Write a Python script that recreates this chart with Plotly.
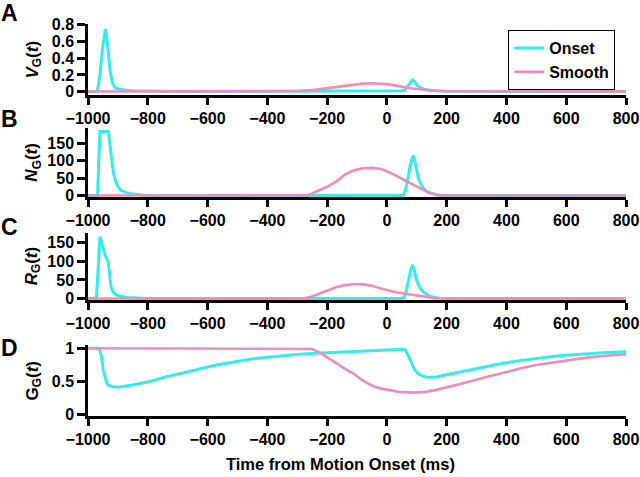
import plotly.graph_objects as go

# ---------------- data ----------------
# Panel A: V_G(t)
a_on_t = [-1000, -975, -968, -960, -952, -946, -942, -938, -932, -926, -918, -910, -895, -880, -850, -800, -700,
          -500, -300, -200, -100, 0, 50, 60, 70, 80, 86, 92, 100, 110, 125, 145, 170, 200, 400, 800]
a_on_v = [0, 0, 0.02, 0.2, 0.5, 0.7, 0.75, 0.68, 0.45, 0.25, 0.1, 0.05, 0.03, 0.02, 0.012, 0.006, 0.003,
          0.002, 0.002, 0.004, 0.006, 0.008, 0.01, 0.02, 0.07, 0.12, 0.14, 0.12, 0.08, 0.05, 0.03, 0.015, 0.008, 0.004, 0.002, 0.001]
a_sm_t = [-1000, -400, -300, -250, -224, -170, -113, -80, -57, -30, 0, 30, 55, 80, 110, 140, 166, 200, 300, 800]
a_sm_v = [0.002, 0.003, 0.008, 0.018, 0.03, 0.058, 0.085, 0.096, 0.1, 0.098, 0.09, 0.072, 0.053, 0.04, 0.028, 0.017, 0.01, 0.006, 0.004, 0.003]

# Panel B: N_G(t)
b_on_t = [-1000, -968, -964, -960, -932, -926, -920, -915, -908, -900, -890, -875, -860, -840, -820, -800, -700,
          50, 56, 62, 70, 78, 84, 88, 92, 98, 105, 115, 125, 140, 155, 170, 190, 800]
b_on_v = [0, 0, 100, 183, 183, 140, 95, 65, 42, 25, 15, 9, 6, 3, 1.5, 0.5, 0,
          0, 2, 15, 45, 85, 108, 115, 105, 75, 50, 30, 18, 8, 4, 1.5, 0.5, 0]
b_sm_t = [-1000, -300, -270, -250, -224, -200, -170, -140, -110, -80, -50, -20, 10, 40, 66, 90, 110, 140, 166, 185, 800]
b_sm_v = [0, 0, 1, 6, 15, 25, 40, 60, 72, 78, 79, 76, 66, 52, 40, 29, 21, 9, 2, 0, 0]

# Panel C: R_G(t)
c_on_t = [-1000, -972, -966, -960, -952, -945, -938, -932, -927, -923, -916, -910, -900, -885, -870, -850, -830, -800,
          50, 57, 65, 72, 80, 86, 92, 99, 110, 121, 135, 155, 175, 800]
c_on_v = [0, 0, 80, 166, 145, 122, 108, 97, 60, 32, 18, 12.6, 8, 5, 3, 2, 1, 0,
          0, 2, 20, 50, 78, 90, 75, 50, 30, 19, 10, 4, 0.5, 0]
c_sm_t = [-1000, -280, -260, -240, -224, -200, -170, -140, -107, -80, -50, -20, 0, 30, 66, 110, 140, 166, 185, 800]
c_sm_v = [0, 0, 3, 9, 15, 22, 30, 36, 39, 38, 34, 27, 23, 17, 12, 7, 3, 0.5, 0, 0]

# Panel D: G_G(t)
d_on_t = [-1000, -968, -960, -954, -949, -943, -937, -930, -922, -915, -905, -893, -850, -793, -740, -681, -620, -570,
          -510, -458, -400, -347, -290, -235, -170, -113, -50, 0, 55, 62, 71, 80, 88, 96, 104, 118, 133, 150, 166,
          220, 278, 330, 389, 445, 500, 560, 612, 670, 724, 800]
d_on_v = [1, 1, 0.97, 0.85, 0.675, 0.55, 0.475, 0.44, 0.425, 0.42, 0.418, 0.42, 0.45, 0.5, 0.57, 0.635, 0.695, 0.75,
          0.795, 0.835, 0.865, 0.89, 0.91, 0.925, 0.94, 0.95, 0.965, 0.975, 0.985, 0.975, 0.9, 0.81, 0.72, 0.66, 0.625,
          0.585, 0.565, 0.565, 0.57, 0.62, 0.675, 0.725, 0.775, 0.815, 0.85, 0.88, 0.9, 0.92, 0.935, 0.95]
d_sm_t = [-1000, -262, -250, -224, -200, -168, -140, -113, -85, -57, -30, 0, 40, 88, 130, 166, 220, 278, 330, 389,
          445, 500, 560, 612, 670, 724, 800]
d_sm_v = [1, 1, 0.99, 0.935, 0.87, 0.775, 0.69, 0.625, 0.53, 0.455, 0.405, 0.375, 0.345, 0.334, 0.345, 0.375, 0.43,
          0.5, 0.565, 0.635, 0.695, 0.75, 0.79, 0.825, 0.86, 0.885, 0.91]

x_ticks = [-1000, -800, -600, -400, -200, 0, 200, 400, 600, 800]
series_names = ["Onset", "Smooth"]
panel_letters = ["A", "B", "C", "D"]
y_titles = ["<i>V</i><sub>G</sub>(<i>t</i>)", "<i>N</i><sub>G</sub>(<i>t</i>)",
            "<i>R</i><sub>G</sub>(<i>t</i>)", "G<sub>G</sub>(<i>t</i>)"]
y_tickvals = [[0, 0.2, 0.4, 0.6, 0.8], [0, 50, 100, 150], [0, 50, 100, 150], [0, 0.5, 1]]
y_ticktext = [["0", "0.2", "0.4", "0.6", "0.8"], ["0", "50", "100", "150"], ["0", "50", "100", "150"], ["0", "0.5", "1"]]
y_ranges = [[-0.04, 0.81], [-5, 193], [-4, 177], [-0.018, 1.05]]

# ---------------- styling / layout ----------------
W, H = 640, 477
CYAN = "#33EDED"
PINK = "#F08CB6"
FONT = "Liberation Sans, Arial, Helvetica, sans-serif"

# pixel geometry of plot areas (top, bottom)
panels_px = [(24, 95), (128, 197.3), (232.7, 300), (345, 416)]
letter_centers_px = [13, 119, 227, 348]
x_px = (88, 626)

fig = go.Figure()
data = [(a_on_t, a_on_v, a_sm_t, a_sm_v), (b_on_t, b_on_v, b_sm_t, b_sm_v),
        (c_on_t, c_on_v, c_sm_t, c_sm_v), (d_on_t, d_on_v, d_sm_t, d_sm_v)]

for i, (ot, ov, st, sv) in enumerate(data):
    suffix = "" if i == 0 else str(i + 1)
    fig.add_trace(go.Scatter(x=ot, y=ov, mode="lines", line=dict(color=CYAN, width=3),
                             name=series_names[0], showlegend=(i == 0),
                             xaxis="x" + suffix, yaxis="y" + suffix))
    fig.add_trace(go.Scatter(x=st, y=sv, mode="lines", line=dict(color=PINK, width=2.6),
                             name=series_names[1], showlegend=(i == 0),
                             xaxis="x" + suffix, yaxis="y" + suffix))

layout = dict(width=W, height=H, margin=dict(l=0, r=0, t=0, b=0, autoexpand=False),
              paper_bgcolor="white", plot_bgcolor="white",
              font=dict(family=FONT, color="black"),
              legend=dict(x=508 / W, y=1 - 30 / H, xanchor="left", yanchor="top",
                          bordercolor="black", borderwidth=1.2, bgcolor="white",
                          font=dict(size=16, family=FONT, weight="bold"),
                          tracegroupgap=0, itemwidth=30))
annotations = []
for i, (top, bot) in enumerate(panels_px):
    suffix = "" if i == 0 else str(i + 1)
    dom_y = [1 - bot / H, 1 - top / H]
    layout["xaxis" + suffix] = dict(domain=[x_px[0] / W, x_px[1] / W], range=[-1000, 800], automargin=False,
                                    anchor="y" + suffix, tickvals=x_ticks, showgrid=False, zeroline=False,
                                    showline=True, linecolor="black", linewidth=2.5,
                                    ticks="outside", ticklen=7, tickwidth=2.5, tickcolor="black",
                                    tickfont=dict(size=16, family=FONT, weight="bold"))
    layout["yaxis" + suffix] = dict(domain=dom_y, range=y_ranges[i], anchor="x" + suffix, automargin=False,
                                    tickvals=y_tickvals[i], ticktext=y_ticktext[i],
                                    showgrid=False, zeroline=False,
                                    showline=True, linecolor="black", linewidth=2.5,
                                    ticks="outside", ticklen=8, tickwidth=2.5, tickcolor="black",
                                    tickfont=dict(size=16, family=FONT, weight="bold"))
    annotations.append(dict(text="<b>%s</b>" % panel_letters[i], xref="paper", yref="paper",
                            x=0, y=1 - letter_centers_px[i] / H, xanchor="left", yanchor="middle",
                            borderpad=0, showarrow=False, font=dict(size=23, family=FONT)))
    annotations.append(dict(text="<b>%s</b>" % y_titles[i], xref="paper", yref="paper",
                            x=33 / W, y=1 - (top + bot) / 2 / H, xanchor="center", yanchor="middle",
                            textangle=-90, showarrow=False, font=dict(size=17, family=FONT)))

annotations.append(dict(text="<b>Time from Motion Onset (ms)</b>", xref="paper", yref="paper",
                        x=340 / W, y=1 - 464 / H, xanchor="center", yanchor="middle",
                        showarrow=False, font=dict(size=16.5, family=FONT)))
layout["annotations"] = annotations
fig.update_layout(**layout)
fig.write_html("out.html", config={"displayModeBar": False},
               post_script="document.body.style.margin='0';")
